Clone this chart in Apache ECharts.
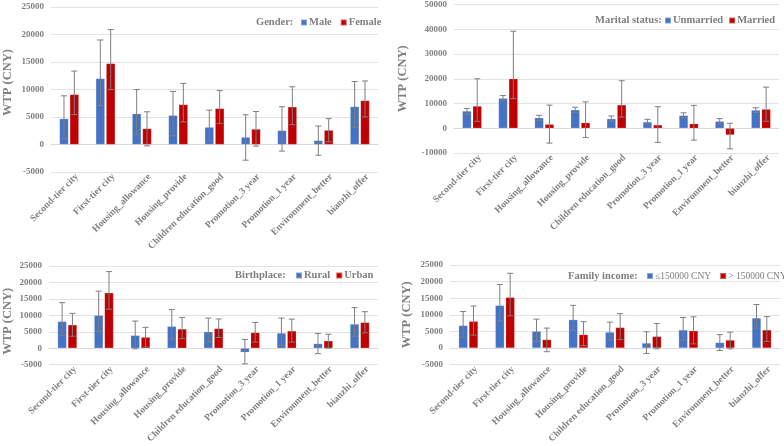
<!DOCTYPE html>
<html>
<head>
<meta charset="utf-8">
<script src="https://cdn.jsdelivr.net/npm/echarts@6/dist/echarts.min.js"></script>
<style>html,body{margin:0;padding:0;background:#fff}#c{width:784px;height:446px}</style>
</head>
<body>
<div id="c"></div>
<script>
const categories = ['Second-tier city','First-tier city','Housing_allowance','Housing_provide','Children education_good','Promotion_3 year','Promotion_1 year','Environment_better','bianzhi_offer'];

// Panel 1: Gender
const maleVals  = [4700, 12000, 5600, 5300, 3150, 1330, 2550, 730, 6900];
const maleLow   = [1100, 7100, 1800, 1600, 670, -2850, -1200, -1950, 3150];
const maleHigh  = [8850, 19000, 10000, 9650, 6250, 5400, 6850, 3350, 11450];
const femaleVals= [9100, 14730, 2900, 7270, 6550, 2800, 6850, 2600, 8000];
const femaleLow = [5450, 10000, -250, 4100, 3800, -300, 3600, 500, 5000];
const femaleHigh= [13350, 20900, 5950, 11100, 9800, 6000, 10500, 4700, 11550];

// Panel 2: Marital status
const unmarriedVals = [6950, 12100, 4250, 7450, 3850, 2550, 5200, 2800, 7300];
const unmarriedLow  = [5800, 11100, 3100, 6400, 2950, 1750, 4250, 1750, 6400];
const unmarriedHigh = [8000, 13200, 5200, 8500, 4950, 3600, 6250, 3900, 8300];
const marriedVals   = [8950, 20000, 1600, 2250, 9450, 1350, 1850, -2700, 7700];
const marriedLow    = [2800, 12000, -6000, -3750, 4500, -5700, -4800, -8300, 2800];
const marriedHigh   = [20000, 39200, 9350, 10650, 19200, 8700, 9250, 2000, 16600];

// Panel 3: Birthplace
const ruralVals = [8150, 10000, 3900, 6650, 5000, -1250, 4600, 1400, 7350];
const ruralLow  = [3800, 5000, -200, 2800, 1900, -4750, 850, -1650, 3650];
const ruralHigh = [13850, 17350, 8250, 11750, 9150, 2650, 9150, 4500, 12350];
const urbanVals = [7100, 16850, 3350, 5850, 6000, 4750, 5250, 2250, 7850];
const urbanLow  = [3650, 11850, 350, 2900, 3250, 1850, 1850, 0, 4650];
const urbanHigh = [10600, 23300, 6350, 9350, 8900, 7850, 8850, 4250, 11100];

// Panel 4: Family income
const lowIncVals = [6800, 12850, 5050, 8550, 4800, 1500, 5450, 1650, 9050];
const lowIncLow  = [3200, 8200, 1900, 5200, 2450, -1650, 2450, -750, 6000];
const lowIncHigh = [11000, 19150, 8700, 12850, 7800, 4900, 9200, 4050, 13100];
const highIncVals= [8050, 15250, 2550, 4050, 6200, 3500, 5200, 2400, 5450];
const highIncLow = [3900, 9700, -1100, 750, 2550, -250, 1250, -250, 2000];
const highIncHigh= [12650, 22500, 6000, 7950, 10350, 7350, 9400, 4800, 9450];

const yTicks1 = {min: -5000, max: 25000, interval: 5000};
const yTicks2 = {min: -10000, max: 50000, interval: 10000};

const BLUE = '#4472C4', RED = '#C00000', GRAY = '#7f7f7f';
const FONT = "'Liberation Serif', 'Times New Roman', serif";

const panels = [
  {title: 'Gender:', names: ['Male','Female'], a: [maleVals, maleLow, maleHigh], b: [femaleVals, femaleLow, femaleHigh], y: yTicks1,
   grid: {left: 48, top: 7, width: 330, height: 165}, titlePos: [256, 23], legendPos: [300, 23], itemGap: 8, nameGap: 37, namePad: [0, 0, 0, 14], boldLegend: true},
  {title: 'Marital status:', names: ['Unmarried','Married'], a: [unmarriedVals, unmarriedLow, unmarriedHigh], b: [marriedVals, marriedLow, marriedHigh], y: yTicks2,
   grid: {left: 454, top: 3, width: 325, height: 150}, titlePos: [595, 21], legendPos: [664, 21], itemGap: 5, nameGap: 45, namePad: [0, 0, 0, 0], boldLegend: true},
  {title: 'Birthplace:', names: ['Rural','Urban'], a: [ruralVals, ruralLow, ruralHigh], b: [urbanVals, urbanLow, urbanHigh], y: yTicks1,
   grid: {left: 48, top: 266, width: 330, height: 120}, titlePos: [235, 276], legendPos: [295, 276], itemGap: 5, nameGap: 35, namePad: [0, 12, 0, 0], boldLegend: true},
  {title: 'Family income:', names: ['\u2264150000 CNY','> 150000 CNY'], a: [lowIncVals, lowIncLow, lowIncHigh], b: [highIncVals, highIncLow, highIncHigh], y: yTicks1,
   grid: {left: 450, top: 265, width: 330, height: 121}, titlePos: [568, 277], legendPos: [646, 277], itemGap: 8, nameGap: 37, namePad: [0, 0, 0, 0], boldLegend: false}
];

const BW = 9, GAP = 0.15;
const OFF = (BW + BW * GAP) / 2;

function errRender(offset) {
  return function (params, api) {
    const x = api.value(0);
    const lo = api.coord([x, api.value(1)]);
    const hi = api.coord([x, api.value(2)]);
    const cx = lo[0] + offset;
    const w = 3;
    const st = {stroke: GRAY, lineWidth: 1};
    return {type: 'group', children: [
      {type: 'line', shape: {x1: cx, y1: lo[1], x2: cx, y2: hi[1]}, style: st},
      {type: 'line', shape: {x1: cx - w, y1: lo[1], x2: cx + w, y2: lo[1]}, style: st},
      {type: 'line', shape: {x1: cx - w, y1: hi[1], x2: cx + w, y2: hi[1]}, style: st}
    ]};
  };
}

const grids = [], xAxes = [], yAxes = [], series = [], legends = [], graphics = [];
panels.forEach((p, i) => {
  grids.push(Object.assign({containLabel: false}, p.grid));
  xAxes.push({
    type: 'category', gridIndex: i, data: categories,
    axisLine: {onZero: true, lineStyle: {color: '#d9d9d9'}},
    axisTick: {show: false},
    axisLabel: {interval: 0, rotate: 45, margin: 11, padding: [0, -11, 0, 0], color: GRAY, fontFamily: FONT, fontWeight: 'bold', fontSize: 9.5}
  });
  yAxes.push({
    type: 'value', gridIndex: i, min: p.y.min, max: p.y.max, interval: p.y.interval,
    name: 'WTP (CNY)', nameLocation: 'middle', nameGap: p.nameGap,
    nameTextStyle: {color: GRAY, fontFamily: FONT, fontWeight: 'bold', fontSize: 12.5, padding: p.namePad},
    axisLine: {show: false}, axisTick: {show: false},
    splitLine: {lineStyle: {color: '#e3e3e3'}},
    axisLabel: {color: GRAY, fontFamily: FONT, fontWeight: 'bold', fontSize: 9, margin: 7, formatter: v => String(v)}
  });
  [[p.a, BLUE, -OFF, p.names[0]], [p.b, RED, OFF, p.names[1]]].forEach(([d, col, off, nm]) => {
    series.push({
      type: 'bar', name: nm, xAxisIndex: i, yAxisIndex: i, data: d[0],
      barWidth: BW, barGap: (GAP * 100) + '%',
      itemStyle: {color: col, borderColor: 'rgba(255,255,255,0.35)', borderWidth: 0.5},
      z: 2
    });
    series.push({
      type: 'custom', name: nm + ' err', xAxisIndex: i, yAxisIndex: i,
      data: d[0].map((v, k) => [k, d[1][k], d[2][k]]),
      encode: {x: 0, y: [1, 2]},
      renderItem: errRender(off), z: 5, silent: true
    });
  });
  legends.push({
    data: p.names, left: p.legendPos[0], top: p.legendPos[1] - 6, width: 400, height: 14, orient: 'horizontal',
    icon: 'rect', itemWidth: 6, itemHeight: 6, itemGap: p.itemGap, padding: 0,
    textStyle: {color: GRAY, fontFamily: FONT, fontWeight: p.boldLegend ? 'bold' : 'normal', fontSize: p.boldLegend ? 10.5 : 9.5, padding: [0, 0, 0, -3]},
    selectedMode: false
  });
  graphics.push({
    type: 'text', left: p.titlePos[0], top: p.titlePos[1] - 6,
    style: {text: p.title, fill: GRAY, font: 'bold 10.5px ' + FONT}
  });
});

const chart = echarts.init(document.getElementById('c'), null, {renderer: 'canvas'});
chart.setOption({
  animation: false,
  backgroundColor: '#fff',
  grid: grids, xAxis: xAxes, yAxis: yAxes, series: series, legend: legends, graphic: graphics
});
</script>
</body>
</html>
